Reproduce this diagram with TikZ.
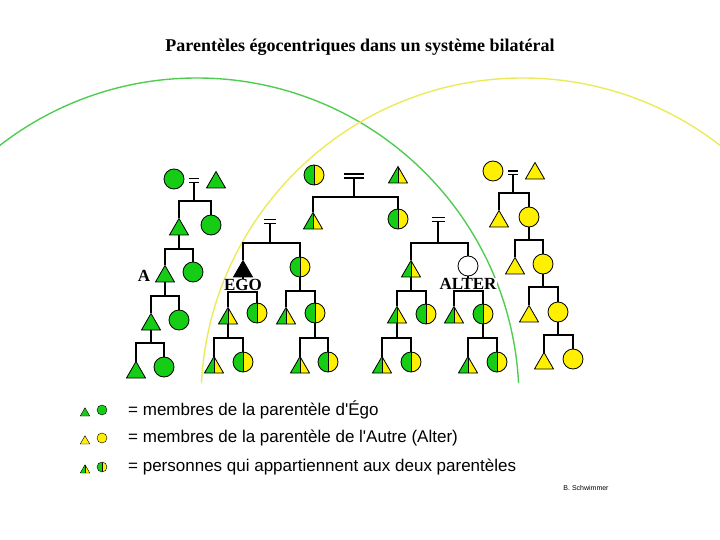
\documentclass[tikz,border=0pt]{standalone}
\usepackage{fontspec}
\setmainfont{Liberation Serif}
\setsansfont{Liberation Sans}
\usetikzlibrary{shapes.geometric}
\definecolor{egogreen}{RGB}{20,205,20}
\definecolor{altyellow}{RGB}{255,240,0}
\definecolor{arcgreen}{RGB}{80,205,80}
\definecolor{arcyellow}{RGB}{235,235,90}
\tikzset{
  person/.style={draw, line width=0.8pt, inner sep=0pt, outer sep=0pt, anchor=south},
  male/.style={person, regular polygon, regular polygon sides=3, minimum size=22pt},
  female/.style={person, circle, minimum size=20pt},
  small/.style={line width=0.4pt, minimum size=#1},
  ego side/.style={fill=egogreen},
  alter side/.style={fill=altyellow},
  both sides/.style={fill=egogreen, path picture={
      \fill[altyellow] (path picture bounding box.south) rectangle (path picture bounding box.north east);
      \draw[line width=0.7pt] (path picture bounding box.south) -- (path picture bounding box.north);}},
  wed/.style={minimum width=#1, minimum height=4pt, inner sep=0pt, outer sep=0pt},
  kin/.style={line width=1.4pt},
  lbl/.style={font=\fontsize{17}{18}\selectfont\bfseries, inner sep=0pt, fill=white},
  legend/.style={font=\fontsize{17}{20}\selectfont\sffamily, anchor=west, inner sep=0pt}
}
\begin{document}
\begin{tikzpicture}[x=1pt, y=-1pt]
\useasboundingbox (0,0) rectangle (720,540);
\begin{scope}
\clip (0,0) rectangle (720,540);
\draw[arcgreen, line width=1.4pt] (197,400) ++(-180:322) arc[start angle=-180, end angle=-3, radius=322];
\draw[arcyellow, line width=1.4pt] (523,400) ++(-177:322) arc[start angle=-177, end angle=-40, radius=322];
\end{scope}
\node[font=\fontsize{18}{20}\selectfont\bfseries] (title) at (360,47) {Parentèles égocentriques dans un système bilatéral};

\node[female, ego side] (gm1) at (174,189) {};
\node[wed=10pt] (eq1) at (194,181) {};
\node[male, ego side] (gf1) at (216,188) {};
\node[male, ego side] (ga) at (179,235) {};
\node[female, ego side] (gb) at (211,235) {};
\node[male, ego side] (pa) at (165,282) {};
\node[female, ego side] (gc) at (193,282) {};
\node[male, ego side] (gd) at (151,330) {};
\node[female, ego side] (ge) at (179,330) {};
\node[male, ego side] (gf) at (136,378) {};
\node[female, ego side] (gg) at (164,377) {};

\node[female, both sides] (sm1) at (314,185) {};
\node[wed=20pt] (eq2) at (354,176) {};
\node[male, both sides] (sf1) at (398,183) {};
\node[male, both sides] (s1) at (313,229) {};
\node[female, both sides] (s2) at (398,229) {};

\node[wed=12pt] (eq3) at (270,221.5) {};
\node[male, fill=black] (ego) at (243,277) {};
\node[female, both sides] (s3) at (300,277) {};
\node[male, both sides] (s4) at (228,324) {};
\node[female, both sides] (s5) at (257,323) {};
\node[male, both sides] (s6) at (214,373) {};
\node[female, both sides] (s7) at (243,372) {};
\node[male, both sides] (s8) at (286,324) {};
\node[female, both sides] (s9) at (315,323) {};
\node[male, both sides] (s10) at (300,373) {};
\node[female, both sides] (s11) at (328,372) {};

\node[wed=13pt] (eq4) at (438,220) {};
\node[male, both sides] (s12) at (411,277) {};
\node[female, fill=white] (alter) at (468,276) {};
\node[male, both sides] (s13) at (397,323) {};
\node[female, both sides] (s14) at (426,324) {};
\node[male, both sides] (s15) at (382,373) {};
\node[female, both sides] (s16) at (411,372) {};
\node[male, both sides] (s17) at (454,323) {};
\node[female, both sides] (s18) at (483,324) {};
\node[male, both sides] (s19) at (468,373) {};
\node[female, both sides] (s20) at (497,372) {};

\node[female, alter side] (ym1) at (493,181) {};
\node[wed=10pt] (eq5) at (513,173) {};
\node[male, alter side] (yf1) at (535,179) {};
\node[male, alter side] (ya) at (499,227) {};
\node[female, alter side] (yb) at (529,227) {};
\node[male, alter side] (yc) at (515,274) {};
\node[female, alter side] (yd) at (543,274) {};
\node[male, alter side] (ye) at (529,322) {};
\node[female, alter side] (yf) at (558,322) {};
\node[male, alter side] (yg) at (544,369) {};
\node[female, alter side] (yh) at (573,369) {};

\draw[line width=1pt] (eq1.north west) -- (eq1.north east) (eq1.south west) -- (eq1.south east);
\draw[line width=2pt] (eq2.north west) -- (eq2.north east) (eq2.south west) -- (eq2.south east);
\draw[line width=1.6pt] (eq3.north west) -- (eq3.north east) (eq3.south west) -- (eq3.south east);
\draw[line width=1pt] (eq4.north west) -- (eq4.north east) (eq4.south west) -- (eq4.south east);
\draw[line width=2pt] (eq5.north west) -- (eq5.north east);
\draw[line width=1pt] (eq5.south west) -- (eq5.south east);

\coordinate (b1) at (194,201);
\coordinate (b2) at (179,249);
\coordinate (b3) at (165,296);
\coordinate (b4) at (151,343);
\coordinate (b5) at (354,197);
\coordinate (b6) at (270,243);
\coordinate (b7) at (243,292);
\coordinate (b8) at (228,338);
\coordinate (b9) at (300,291);
\coordinate (b10) at (315,338);
\coordinate (b11) at (438,243);
\coordinate (b12) at (411,291);
\coordinate (b13) at (397,338);
\coordinate (b14) at (468,291);
\coordinate (b15) at (483,338);
\coordinate (b16) at (513,193);
\coordinate (b17) at (529,240);
\coordinate (b18) at (543,287);
\coordinate (b19) at (558,335);

\draw[kin] (eq1.south) -- (b1);
\draw[kin] (ga.north) |- (b1) -| (gb.north);
\draw[kin] (ga.south) -- (b2);
\draw[kin] (pa.north) |- (b2) -| (gc.north);
\draw[kin] (pa.south) -- (b3);
\draw[kin] (gd.north) |- (b3) -| (ge.north);
\draw[kin] (gd.south) -- (b4);
\draw[kin] (gf.north) |- (b4) -| (gg.north);

\draw[kin] (eq2.south) -- (b5);
\draw[kin] (s1.north) |- (b5) -| (s2.north);

\draw[kin] (eq3.south) -- (b6);
\draw[kin] (ego.north) |- (b6) -| (s3.north);
\draw[kin] (ego.south) -- (b7);
\draw[kin] (s4.north) |- (b7) -| (s5.north);
\draw[kin] (s4.south) -- (b8);
\draw[kin] (s6.north) |- (b8) -| (s7.north);
\draw[kin] (s3.south) -- (b9);
\draw[kin] (s8.north) |- (b9) -| (s9.north);
\draw[kin] (s9.south) -- (b10);
\draw[kin] (s10.north) |- (b10) -| (s11.north);

\draw[kin] (eq4.south) -- (b11);
\draw[kin] (s12.north) |- (b11) -| (alter.north);
\draw[kin] (s12.south) -- (b12);
\draw[kin] (s13.north) |- (b12) -| (s14.north);
\draw[kin] (s13.south) -- (b13);
\draw[kin] (s15.north) |- (b13) -| (s16.north);
\draw[kin] (alter.south) -- (b14);
\draw[kin] (s17.north) |- (b14) -| (s18.north);
\draw[kin] (s18.south) -- (b15);
\draw[kin] (s19.north) |- (b15) -| (s20.north);

\draw[kin] (eq5.south) -- (b16);
\draw[kin] (ya.north) |- (b16) -| (yb.north);
\draw[kin] (yb.south) -- (b17);
\draw[kin] (yc.north) |- (b17) -| (yd.north);
\draw[kin] (yd.south) -- (b18);
\draw[kin] (ye.north) |- (b18) -| (yf.north);
\draw[kin] (yf.south) -- (b19);
\draw[kin] (yg.north) |- (b19) -| (yh.north);

\node[lbl] (albl) at (144,276) {A};
\node[lbl] (egolbl) at (243,285) {EGO};
\node[lbl] (alterlbl) at (468,284) {ALTER};

\node[male, ego side, small=11pt] (lg1) at (85,416) {};
\node[female, ego side, small=10pt] (lg2) at (102,415) {};
\node[male, alter side, small=11pt] (lg3) at (85,444) {};
\node[female, alter side, small=10pt] (lg4) at (102,443) {};
\node[male, both sides, small=11pt] (lg5) at (85,473) {};
\node[female, both sides, small=10pt] (lg6) at (102,472) {};
\node[legend] (lt1) at (128,410) {= membres de la parentèle d\textquotesingle Égo};
\node[legend] (lt2) at (128,438) {= membres de la parentèle de l\textquotesingle Autre (Alter)};
\node[legend] (lt3) at (128,467) {= personnes qui appartiennent aux deux parentèles};
\node[font=\fontsize{7}{8}\selectfont\sffamily] (credit) at (586,488) {B. Schwimmer};
\end{tikzpicture}
\end{document}
